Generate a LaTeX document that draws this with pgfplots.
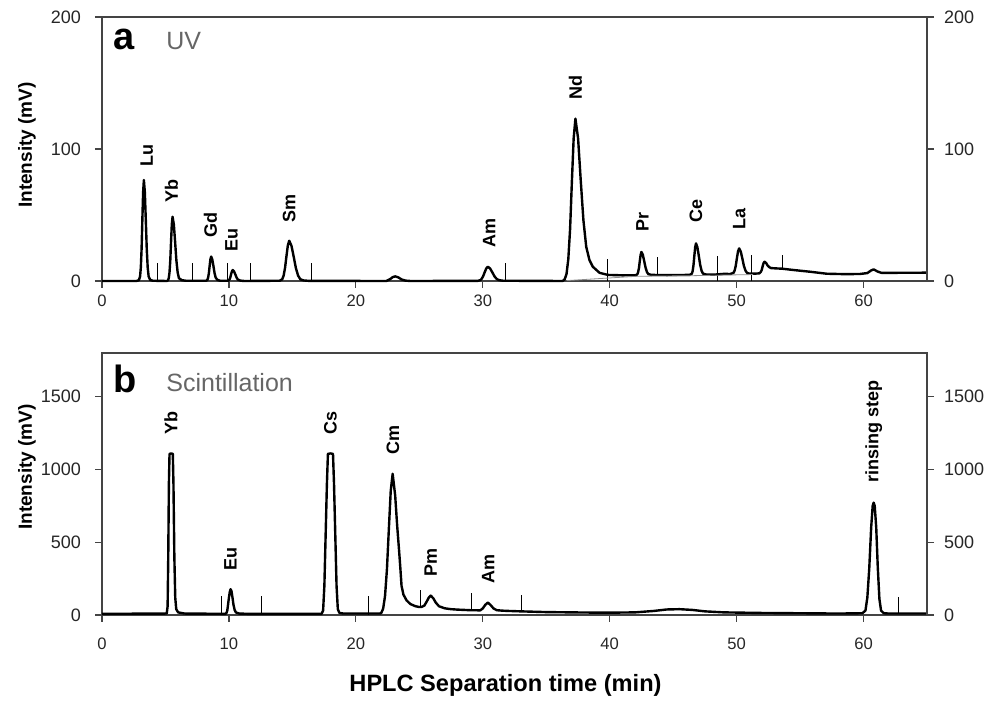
\documentclass[border=0pt]{standalone}
\usepackage{fontspec}
\setmainfont{Liberation Sans}
\usepackage{pgfplots}
\pgfplotsset{compat=1.18}

\definecolor{axgray}{HTML}{444444}
\definecolor{labgray}{HTML}{666666}

\pgfplotsset{
  chrom/.style={
    scale only axis, width=412.5pt,
    xmin=0, xmax=65, xtick={0,10,...,60},
    tick align=outside, major tick length=3.5pt,
    axis line style={axgray, line width=0.6pt},
    tick style={axgray, line width=0.6pt},
    ticklabel style={text=black!85},
    xticklabel style={font=\fontsize{8.3}{10}\selectfont},
    yticklabel style={font=\fontsize{9}{10}\selectfont, xshift=-3.5pt},
    /pgf/number format/assume math mode=true,
    /pgf/number format/1000 sep={},
    xtick pos=left, ytick pos=left,
    unbounded coords=jump, clip=false,
  },
  twin/.style={
    scale only axis, width=412.5pt, xmin=0, xmax=65,
    hide x axis, axis y line*=right,
    tick align=outside, major tick length=3.5pt,
    axis line style={axgray, line width=0.6pt},
    tick style={axgray, line width=0.6pt},
    yticklabel style={font=\fontsize{9}{10}\selectfont, text=black!85, xshift=1.5pt},
    /pgf/number format/assume math mode=true,
    /pgf/number format/1000 sep={},
  },
}
\tikzset{
  trace/.style={black, line width=1.2pt, line join=round},
  markln/.style={black, line width=0.5pt},
  lab/.style={rotate=90, anchor=west, inner sep=0pt, font=\bfseries\fontsize{9}{10}\selectfont},
}

\begin{document}
\begin{tikzpicture}
\useasboundingbox (0,0) rectangle (495pt,350.5pt);

% ---- panel a: UV
\begin{axis}[chrom, at={(51pt,210pt)}, anchor=south west, height=132pt,
  ymin=0, ymax=200, ytick={0,100,200}]
\addplot[trace] coordinates {
(0,0) (2.7,0) (2.9,0.5) (3.0,3.4) (3.06,10.3) (3.12,24.5) (3.18,46.7) (3.24,67.3) (3.3,76.5)
(3.375,67.3) (3.45,46.7) (3.525,24.5) (3.6,10.3) (3.675,3.4) (3.8,0.8) (4.0,0.2)
(5.1,0) (5.2,0.5) (5.26,2.1) (5.32,6.6) (5.38,15.6) (5.44,29.7) (5.5,42.9) (5.56,48.7)
(5.66,42.9) (5.76,29.7) (5.86,15.6) (5.96,6.6) (6.06,2.1) (6.3,0.6) (6.6,0.2)
(8.2,0.2) (8.3,0.8) (8.36,2.5) (8.42,5.9) (8.48,11.3) (8.54,16.3) (8.6,18.5)
(8.69,16.3) (8.78,11.3) (8.87,5.9) (8.96,2.5) (9.1,0.8) (9.3,0.2)
(9.95,0.2) (10.04,1.1) (10.11,2.7) (10.17,5.1) (10.24,7.3) (10.3,8.3)
(10.4,7.3) (10.5,5.1) (10.6,2.7) (10.7,1.1) (10.9,0.3) (11.2,0)
(14.0,0.2) (14.2,1.3) (14.31,4.1) (14.42,9.8) (14.53,18.6) (14.64,26.8) (14.75,30.5)
(14.925,26.8) (15.1,18.6) (15.275,9.8) (15.45,4.1) (15.625,1.3) (15.9,0.4) (16.3,0.1)
(22.4,0) (22.7,1.4) (22.9,2.9) (23.1,3.5) (23.35,2.7) (23.6,1.2) (23.9,0.3) (24.3,0)
(29.6,0.1) (29.8,0.6) (29.9,1.5) (30.025,3.5) (30.15,6.6) (30.275,9.5) (30.4,10.8)
(30.575,9.5) (30.75,6.6) (30.925,3.5) (31.1,1.5) (31.3,0.6) (31.6,0.2)
(36.3,0) (36.46,1.4) (36.6,5.4) (36.74,16.6) (36.88,39.4) (37.02,75) (37.16,108) (37.3,123)
(37.51,108) (37.72,76) (37.93,46) (38.15,26) (38.4,16) (38.67,10.8) (39.2,6.2) (39.86,4.6) (41,4.3)
(42.1,4.4) (42.18,5.2) (42.24,6.7) (42.31,10) (42.37,15) (42.44,19.9) (42.5,22)
(42.61,19.9) (42.72,15) (42.83,10) (42.94,6.7) (43.05,5.2) (43.3,4.6) (44.5,4.5)
(46.3,4.6) (46.475,5.6) (46.54,7.7) (46.605,12.2) (46.67,19.1) (46.735,25.6) (46.8,28.5)
(46.91,25.6) (47.02,19.1) (47.13,12.2) (47.24,7.7) (47.35,5.6) (47.6,4.9) (48.2,4.8) (49,5.4)
(49.5,5.3) (49.75,6.1) (49.84,7.8) (49.93,11.4) (50.02,17.1) (50.11,22.4) (50.2,24.7)
(50.325,22.4) (50.45,17.1) (50.575,11.4) (50.7,7.8) (50.825,6.1) (51.0,5.6) (51.5,5.6)
(51.8,5.8) (51.9,6.8) (51.97,8.1) (52.05,11.1) (52.125,13.6) (52.2,14.6)
(52.325,13.6) (52.45,11.6) (52.575,10.5) (52.7,9.8) (53.0,9.6) (53.6,9.3) (54.5,8.3)
(55.8,7) (57.1,5.5) (58.5,5.2) (59.7,5.3) (60.3,6) (60.6,8) (60.8,8.8) (61.1,7.2)
(61.4,6.2) (62.5,6.2) (65,6.3)
};
% integration marks
\addplot[markln] coordinates {
(4.4,0.2) (4.4,13.6) (4.4,nan) (7.1,0.1) (7.1,13.6) (7.1,nan) (9.9,0.2) (9.9,13.6) (9.9,nan)
(11.7,0) (11.7,13.6) (11.7,nan) (16.5,0.1) (16.5,14) (16.5,nan) (31.8,0.2) (31.8,14) (31.8,nan)
(39.8,0) (39.8,16.5) (39.8,nan) (43.75,4.5) (43.75,18) (43.75,nan) (48.5,0) (48.5,19) (48.5,nan)
(51.2,0) (51.2,19.5) (51.2,nan) (53.6,9) (53.6,19.5)
};
\addplot[black!45, line width=0.4pt] coordinates {(36.6,0.3) (42.2,3.6) (46.4,4.0) (51.3,4.9)};
\node[lab] at (axis cs:3.52,86.6) {Lu};
\node[lab] at (axis cs:5.48,58.8) {Yb};
\node[lab] at (axis cs:8.55,32.3) {Gd};
\node[lab] at (axis cs:10.2,22.2) {Eu};
\node[lab] at (axis cs:14.75,44.2) {Sm};
\node[lab] at (axis cs:30.5,24.7) {Am};
\node[lab] at (axis cs:37.3,137) {Nd};
\node[lab] at (axis cs:42.57,37.4) {Pr};
\node[lab] at (axis cs:46.8,43.7) {Ce};
\node[lab] at (axis cs:50.2,39) {La};
\end{axis}
\begin{axis}[twin, at={(51pt,210pt)}, anchor=south west, height=132pt,
  ymin=0, ymax=200, ytick={0,100,200}]
\end{axis}

% ---- panel b: scintillation
\begin{axis}[chrom, at={(51pt,43pt)}, anchor=south west, height=131pt,
  ymin=0, ymax=1800, ytick={0,500,1000,1500},
  xticklabel style={yshift=-4.5pt}]
\addplot[trace] coordinates {
(0,8) (5.1,10) (5.17,60) (5.22,400) (5.27,900) (5.32,1107) (5.45,1110) (5.58,1107)
(5.63,900) (5.7,400) (5.77,120) (5.85,40) (6.0,18) (6.5,10)
(9.7,8) (9.8,12) (9.87,30) (9.93,70) (10.0,120) (10.07,160) (10.13,177)
(10.2,165) (10.28,120) (10.36,70) (10.45,35) (10.55,18) (10.8,10) (11.5,8)
(17.3,8) (17.42,30) (17.52,200) (17.62,550) (17.72,900) (17.8,1107) (18.0,1110) (18.2,1107)
(18.28,900) (18.38,550) (18.48,200) (18.58,40) (18.7,15) (19,10)
(21.9,10) (22.0,14) (22.15,43) (22.3,131) (22.45,315) (22.6,590) (22.75,855) (22.9,970)
(23.1,820) (23.25,620) (23.4,450) (23.5,330) (23.6,200) (23.75,140) (24.0,100) (24.3,75)
(24.7,60) (25.0,55) (25.2,56) (25.4,65) (25.6,95) (25.75,120) (25.9,133)
(26.1,115) (26.3,85) (26.55,60) (27.0,46) (27.5,40) (28.0,37) (29.0,33)
(29.8,32) (30.0,45) (30.2,70) (30.4,85) (30.6,70) (30.85,45) (31.1,33) (31.5,30)
(32,28) (33,25) (35,20) (38,17) (40,16) (42,18) (43.5,28) (44.5,38) (45.5,40) (46.5,35)
(47.5,25) (49,18) (52,14) (55,12) (58,10) (59.9,12)
(60.15,30) (60.3,120) (60.45,320) (60.6,600) (60.72,750) (60.8,772)
(60.88,750) (61.0,600) (61.12,330) (61.25,110) (61.38,30) (61.6,12) (62,10) (65,10)
};
\addplot[markln] coordinates {
(9.4,0) (9.4,130) (9.4,nan) (12.57,0) (12.57,130) (12.57,nan) (21.0,0) (21.0,130) (21.0,nan)
(25.1,55) (25.1,172) (25.1,nan) (29.15,33) (29.15,149) (29.15,nan) (33.05,25) (33.05,137) (33.05,nan)
(62.75,10) (62.75,126)
};
\node[lab] at (axis cs:5.43,1238) {Yb};
\node[lab] at (axis cs:10.13,305) {Eu};
\node[lab] at (axis cs:18.0,1238) {Cs};
\node[lab] at (axis cs:22.93,1100) {Cm};
\node[lab] at (axis cs:25.9,264) {Pm};
\node[lab] at (axis cs:30.42,213) {Am};
\node[lab] at (axis cs:60.8,906) {rinsing step};
\end{axis}
\begin{axis}[twin, at={(51pt,43pt)}, anchor=south west, height=131pt,
  ymin=0, ymax=1800, ytick={0,500,1000,1500}]
\end{axis}

% panel tags and axis titles
\node[anchor=base west, inner sep=0pt, font=\bfseries\fontsize{19}{22}\selectfont] at (56.35pt,325.5pt) {a};
\node[anchor=base west, inner sep=0pt, text=labgray, font=\fontsize{12.5}{15}\selectfont] at (83pt,325.85pt) {UV};
\node[anchor=base west, inner sep=0pt, font=\bfseries\fontsize{19}{22}\selectfont] at (56.65pt,154.15pt) {b};
\node[anchor=base west, inner sep=0pt, text=labgray, font=\fontsize{12.5}{15}\selectfont] at (83pt,154.65pt) {Scintillation};
\node[rotate=90, font=\bfseries\fontsize{9.5}{11}\selectfont] at (13.5pt,278pt) {Intensity (mV)};
\node[rotate=90, font=\bfseries\fontsize{9.5}{11}\selectfont] at (13.5pt,117pt) {Intensity (mV)};
\node[anchor=base, font=\bfseries\fontsize{11.8}{14}\selectfont] at (252.75pt,4.7pt) {HPLC Separation time (min)};
\end{tikzpicture}
\end{document}
